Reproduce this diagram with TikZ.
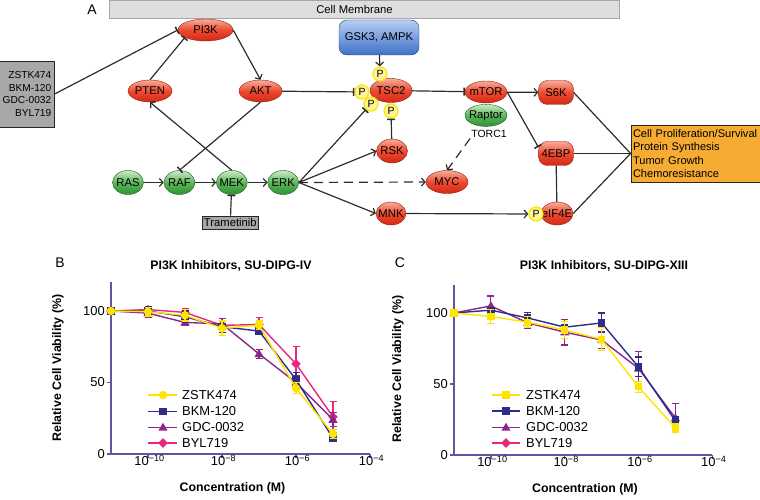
\documentclass[tikz,border=0pt]{standalone}
\usepackage{fontspec}
\setmainfont{Liberation Sans}
\usetikzlibrary{arrows.meta,positioning,shapes.geometric,calc}
\definecolor{redtop}{RGB}{248,172,152}
\definecolor{redmid}{RGB}{236,74,48}
\definecolor{redbot}{RGB}{212,40,22}
\definecolor{greentop}{RGB}{205,236,200}
\definecolor{greenmid}{RGB}{92,182,88}
\definecolor{greenbot}{RGB}{46,146,52}
\definecolor{bluetop}{RGB}{182,206,242}
\definecolor{bluebot}{RGB}{62,112,200}
\definecolor{pfill}{RGB}{255,245,150}
\definecolor{pring}{RGB}{250,230,10}
\definecolor{linkgray}{RGB}{45,45,45}
\definecolor{drugfill}{RGB}{168,168,168}
\definecolor{memfill}{RGB}{222,222,222}
\definecolor{outfill}{RGB}{246,172,50}
\definecolor{zstk}{RGB}{255,228,0}
\definecolor{bkm}{RGB}{48,44,140}
\definecolor{gdc}{RGB}{138,38,140}
\definecolor{byl}{RGB}{232,40,128}
\definecolor{axisblue}{RGB}{88,88,165}
\newcommand{\nodesize}{\fontsize{11.3}{13}\selectfont}
\newcommand{\plotsize}{\fontsize{13}{15}\selectfont}
\tikzset{
  prot/.style={ellipse,inner sep=-20bp,minimum width=44bp,minimum height=22bp,
    draw=redbot!70!black,line width=.4bp,top color=redtop,bottom color=redbot,middle color=redmid},
  protbox/.style={prot,rectangle,rounded corners=9bp,minimum width=35bp,minimum height=24bp},
  gbox/.style={prot,minimum width=31bp,minimum height=24bp,draw=greenbot!60!black,
    top color=greentop,bottom color=greenbot,middle color=greenmid},
  kinase/.style={rectangle,rounded corners=8bp,minimum width=80bp,minimum height=35bp,
    draw=bluebot!60!black,line width=.4bp,top color=bluetop,bottom color=bluebot},
  pnode/.style={circle,inner sep=0pt,minimum size=14bp,fill=pfill,draw=pring,line width=1.3bp,
    font=\fontsize{10.5}{12}\selectfont},
  drugbox/.style={draw=gray!30!black,fill=drugfill,line width=.6bp,inner xsep=2bp},
  outcome/.style={draw=gray!30!black,fill=outfill,line width=.8bp,align=left,text width=125bp,
    inner xsep=2bp,minimum height=57bp,font=\fontsize{11.1}{13.2}\selectfont},
  membrane/.style={draw=gray!70,fill=memfill,line width=.8bp,minimum width=510bp,minimum height=18bp},
  link/.style={draw=linkgray,line width=1.2bp},
  act/.style={link,-{Straight Barb[length=3.5bp,width=8bp]}},
  inh/.style={link,-{Bar[width=8bp,line width=1.5bp]}},
  indirect/.style={dash pattern=on 9bp off 6bp},
  plotaxis/.style={draw=axisblue,line width=1.5bp},
  dosetrace/.style={line width=1.4bp,line join=round},
  errbar/.style={line width=1.1bp},
  ticklab/.style={font=\plotsize,inner sep=0pt},
  axlabel/.style={font=\fontsize{12.4}{14}\selectfont\bfseries},
  legtext/.style={font=\plotsize,inner sep=0pt,anchor=west},
  tag/.style={font=\fontsize{14}{16}\selectfont},
  dot/.pic={\fill circle (4.2bp);},
  sq/.pic={\fill (-3.6bp,-3.6bp) rectangle (3.6bp,3.6bp);},
  tri/.pic={\fill (0,4.8bp) -- (-4.6bp,-3.2bp) -- (4.6bp,-3.2bp) -- cycle;},
  dia/.pic={\fill (0,4.8bp) -- (4.8bp,0) -- (0,-4.8bp) -- (-4.8bp,0) -- cycle;}
}
\newcommand{\doseline}[3]{%
  \draw[dosetrace,#1] (0,100) \foreach \x/\v/\e in {#3} {-- (\x,\v)};
  \foreach \x/\v/\e in {#3} {
    \draw[errbar,#1] (\x,\v-\e) -- (\x,\v+\e);
    \draw[errbar,#1] (\x,\v-\e) ++(-3.5bp,0) -- ++(7bp,0);
    \draw[errbar,#1] (\x,\v+\e) ++(-3.5bp,0) -- ++(7bp,0);
  }
  \foreach \x/\v/\e in {0/100/0,#3} \pic[color=#1] at (\x,\v) {#2};
}

\begin{document}
\begin{tikzpicture}[x=1bp,y=-1bp,font=\nodesize]
  \useasboundingbox (0,0) rectangle (760,500);
  \node[membrane] (mem) at (364,9) {};
  \node (memlabel) at (354.5,9.5) {Cell Membrane};
  \node[tag] (tagA) at (92,10) {A};
  \node[kinase] (gsk) at (379,37.5) {GSK3, AMPK};
  \node[prot,minimum width=55bp] (pi3k) at (205.5,30) {PI3K};
  \node[prot] (pten) at (150,91) {PTEN};
  \node[prot,minimum width=43bp] (akt) at (260.5,91) {AKT};
  \node[prot,minimum width=42bp,minimum height=24bp] (tsc) at (391,90.5) {TSC2};
  \node[pnode] (p1) at (380,74) {P};
  \node[pnode] (p2) at (362,92) {P};
  \node[pnode] (p3) at (371,104) {P};
  \node[pnode] (p4) at (391,111) {P};
  \node[prot,minimum width=42bp] (mtor) at (486,92) {mTOR};
  \node[gbox,minimum width=42bp,minimum height=22bp,below=1bp of mtor] (raptor) {Raptor};
  \node[font=\fontsize{10.5}{12}\selectfont,inner sep=1bp,below=2bp of raptor,xshift=3bp] (torc) {TORC1};
  \node[protbox] (s6k) at (556,92.5) {S6K};
  \node[protbox] (ebp) at (556,153.5) {4EBP};
  \node[prot,minimum width=32bp,minimum height=23bp] (eif) at (557,213.5) {eIF4E};
  \node[pnode] (p5) at (536,214) {P};
  \node[prot,minimum width=31bp,minimum height=24bp] (rsk) at (392,151) {RSK};
  \node[prot,minimum width=42bp,minimum height=23bp] (myc) at (447,182) {MYC};
  \node[prot,minimum width=30bp,minimum height=23bp] (mnk) at (391,213.5) {MNK};
  \node[gbox] (ras) at (128,182.5) {RAS};
  \node[gbox,right=20bp of ras] (raf) {RAF};
  \node[gbox,right=21bp of raf] (mek) {MEK};
  \node[gbox,right=20bp of mek] (erk) {ERK};
  \node[drugbox,below=21bp of mek,minimum height=13bp,inner ysep=1bp,xshift=-1.5bp] (tram) {Trametinib};
  \node[drugbox,align=right,minimum width=54bp,minimum height=66bp,inner xsep=3bp,
    font=\fontsize{10.2}{12.8}\selectfont] (drugs) at (27,94) {ZSTK474\\BKM-120\\GDC-0032\\BYL719};
  \node[outcome] (out) at (695.5,153.5) {Cell Proliferation/Survival\\Protein Synthesis\\Tumor Growth\\Chemoresistance};
  \draw[inh] (drugs.east) -- (pi3k.west);
  \draw[inh] (pten.north) -- (pi3k.200);
  \draw[act] (pi3k.east) -- (akt.north);
  \draw[inh] (akt) -- (p2);
  \draw[inh] (akt.south) -- (raf.north);
  \draw[act] (mek.north) -- (pten.south);
  \draw[act] (ras) -- (raf);
  \draw[act] (raf) -- (mek);
  \draw[act] (mek) -- (erk);
  \draw[inh] (tram) -- (mek);
  \draw[act] (gsk) -- (p1);
  \draw[inh] (erk.east) -- (p3);
  \draw[inh] (rsk) -- (p4);
  \draw[act] (erk.east) -- (rsk.west);
  \draw[act,indirect] (erk.east) -- (myc.west);
  \draw[act] (erk.east) -- (mnk.west);
  \draw[act] (mnk) -- (p5);
  \draw[inh] (tsc) -- (mtor);
  \draw[act] (mtor) -- (s6k);
  \draw[inh] (mtor.east) -- (ebp.160);
  \draw[act,indirect] (torc.south west) -- (myc.north);
  \draw[link] (ebp) -- (eif);
  \draw[link] (s6k.east) -- (out.west);
  \draw[link] (ebp.east) -- (out.west);
  \draw[link] (eif.east) -- (out.west);

  \node[tag] (tagB) at (60,263) {B};
  \node[axlabel] (btitle) at (231,266) {PI3K Inhibitors, SU-DIPG-IV};
  \node[axlabel,rotate=90] (bylab) at (58,368) {Relative Cell Viability (\%)};
  \node[axlabel] (bxlab) at (232.5,488) {Concentration (M)};
  \begin{scope}[shift={(111,454)},x=37bp,y=1.43bp]
    \draw[plotaxis] (0,120) -- (0,0) -- (7,0);
    \foreach \v in {0,50,100} \draw[plotaxis] (0,\v) -- ++(-4bp,0) node[ticklab,left=1.5bp] (by\v) {\v};
    \foreach \i/\e in {1/10,3/8,5/6,7/4} {
      \draw[plotaxis] (\i,0) -- ++(0,-4bp);
      \node[ticklab,anchor=north] (bx\e) at ([xshift=1.5bp,yshift=-1bp]\i,0) {10\textsuperscript{−\e}};
    }
    \doseline{byl}{dia}{1/101/2,2/99/3,3/90/5,4/90.5/5,5/63/12,6/26/11}
    \doseline{gdc}{tri}{1/98.5/3,2/92/2,3/91/4,4/70/3,5/50/5,6/24/5}
    \doseline{bkm}{sq}{1/100/3,2/96/4,3/89/4,4/86/2,5/52/5,6/11/2}
    \doseline{zstk}{dot}{1/99.5/3,2/97/4,3/88/5,4/90/3,5/46/4,6/14/3}
  \end{scope}
  \foreach \ly/\lc/\lm/\lt in {395/zstk/dot/ZSTK474,411.5/bkm/sq/BKM-120,427.5/gdc/tri/GDC-0032,443/byl/dia/BYL719} {
    \draw[dosetrace,\lc] (148,\ly) -- (177,\ly);
    \pic[color=\lc] at (163,\ly) {\lm};
    \node[legtext] (bleg\lc) at (182,\ly) {\lt};
  }

  \node[tag] (tagC) at (400,263) {C};
  \node[axlabel] (ctitle) at (604,266) {PI3K Inhibitors, SU-DIPG-XIII};
  \node[axlabel,rotate=90] (cylab) at (398,369) {Relative Cell Viability (\%)};
  \node[axlabel] (cxlab) at (585,489) {Concentration (M)};
  \begin{scope}[shift={(454,455)},x=36.9bp,y=1.42bp]
    \draw[plotaxis] (0,120) -- (0,0) -- (7,0);
    \foreach \v in {0,50,100} \draw[plotaxis] (0,\v) -- ++(-4bp,0) node[ticklab,left=1.5bp] (cy\v) {\v};
    \foreach \i/\e in {1/10,3/8,5/6,7/4} {
      \draw[plotaxis] (\i,0) -- ++(0,-4bp);
      \node[ticklab,anchor=north] (cx\e) at ([xshift=1.5bp,yshift=-1bp]\i,0) {10\textsuperscript{−\e}};
    }
    \doseline{gdc}{tri}{1/105/7,2/93/4,3/86.5/9,4/81/6,5/61/12,6/26/10}
    \doseline{bkm}{sq}{1/102/2,2/96.5/4,3/90/4,4/93/7,5/62/7,6/24/3}
    \doseline{zstk}{sq}{1/97.5/5,2/93.5/4,3/88/6,4/81.5/8,5/48/4,6/19/3}
  \end{scope}
  \foreach \ly/\lc/\lm/\lt in {395/zstk/sq/ZSTK474,411/bkm/sq/BKM-120,427.5/gdc/tri/GDC-0032,443/byl/dia/BYL719} {
    \draw[dosetrace,\lc] (492,\ly) -- (520,\ly);
    \pic[color=\lc] at (506,\ly) {\lm};
    \node[legtext] (cleg\lc) at (526,\ly) {\lt};
  }
\end{tikzpicture}
\end{document}
